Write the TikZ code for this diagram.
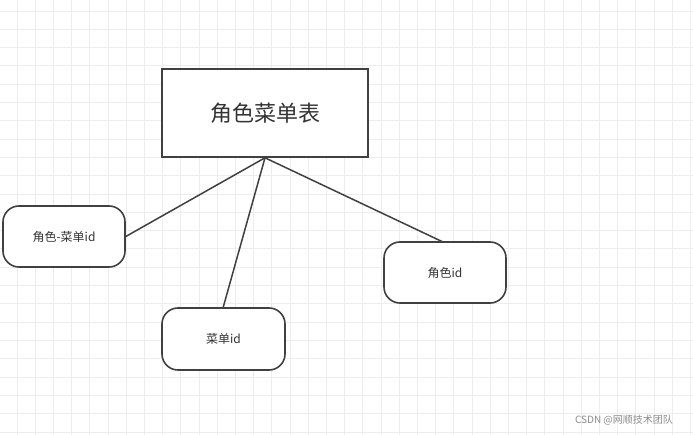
\documentclass[tikz,border=0pt]{standalone}
\usepackage{fontspec}
\setmainfont{Noto Sans CJK SC}
\begin{document}
\begin{tikzpicture}[x=1pt,y=-1pt,
  box/.style={draw=black!75,line width=1.6pt,fill=white,text=black!80},
  rbox/.style={box,rounded corners=16pt},
  conn/.style={draw=black!75,line width=1.5pt}]
\useasboundingbox (0,0) rectangle (693,435);
\fill[white] (0,0) rectangle (693,435);
\foreach \i in {0,...,38} {
  \pgfmathsetmacro\xx{17+18.2*\i}
  \draw[black!7,line width=0.8pt] (\xx,0) -- (\xx,435);
}
\foreach \j in {0,...,23} {
  \pgfmathsetmacro\yy{11+18.3*\j}
  \draw[black!7,line width=0.8pt] (0,\yy) -- (693,\yy);
}
\node[box,minimum width=206pt,minimum height=88pt,font=\fontsize{22}{26}\selectfont] (main) at (265,113) {角色菜单表};
\node[rbox,minimum width=122pt,minimum height=61pt,font=\fontsize{12}{14}\selectfont] (rm) at (64,236.5) {角色-菜单id};
\node[rbox,minimum width=123pt,minimum height=62pt,font=\fontsize{12}{14}\selectfont] (m) at (223.5,339) {菜单id};
\node[rbox,minimum width=122pt,minimum height=61pt,font=\fontsize{12}{14}\selectfont] (r) at (445,272.5) {角色id};
\coordinate (top) at (main.south);
\draw[conn] (top) -- (rm.east);
\draw[conn] (top) -- (223,308);
\draw[conn] (top) -- (443,242);
\node[text=black!45,font=\fontsize{10}{12}\selectfont] (wm) at (624,420) {CSDN @网顺技术团队};
\end{tikzpicture}
\end{document}
